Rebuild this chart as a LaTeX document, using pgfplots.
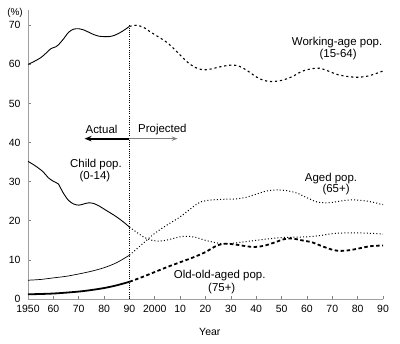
\documentclass[border=0pt]{standalone}
\usepackage{fontspec}
\setmainfont{Liberation Sans}
\usepackage{pgfplots}
\pgfplotsset{compat=1.18}
\usetikzlibrary{arrows.meta}
\begin{document}
\begin{tikzpicture}[x=1bp,y=1bp]
\useasboundingbox (-28,-45) rectangle (372,299);
\begin{axis}[
  at={(0,0)}, anchor=south west,
  scale only axis, width=355bp, height=289bp,
  xmin=1950, xmax=2090, ymin=0, ymax=73.9,
  axis lines=left,
  axis line style={gray!75, line width=0.8pt, -},
  xtick={1950,1960,...,2090},
  xticklabels={1950,60,70,80,90,2000,10,20,30,40,50,60,70,80,90},
  ytick={0,10,...,70},
  tick align=inside, major tick length=3bp,
  tick style={gray, line width=0.6pt},
  ticklabel style={font=\fontsize{10.5}{12}\selectfont},
  xticklabel style={yshift=-2.5bp},
  yticklabel style={xshift=-4bp},
  /pgf/number format/assume math mode=true,
  clip=false,
]
% vertical divider
\addplot[black, line width=0.8pt, dash pattern=on 0.8bp off 1.4bp] coordinates {(1990,0) (1990,70)};

% Working-age actual
\addplot[black, line width=0.9pt, smooth] coordinates {
(1950,60.0)(1952,60.6)(1955,61.7)(1957,62.8)(1959,64.0)(1961,64.5)(1962,65.0)(1964,66.5)(1966,68.2)(1968,69.0)(1970,69.1)(1972,68.8)(1974,68.2)(1976,67.6)(1978,67.2)(1980,67.1)(1982,67.1)(1984,67.4)(1986,68.0)(1988,68.8)(1990,69.7)};
% Working-age projected
\addplot[black, line width=1.1pt, dash pattern=on 2.2bp off 2.8bp, smooth] coordinates {
(1990,69.7)(1993,70.0)(1996,69.3)(1998,68.4)(2000,67.6)(2005,65.5)(2010,62.4)(2013,60.5)(2016,59.2)(2019,58.6)(2022,58.8)(2026,59.4)(2030,59.8)(2033,59.6)(2036,58.6)(2040,56.8)(2043,55.9)(2046,55.6)(2050,55.9)(2054,56.8)(2058,58.2)(2062,58.9)(2065,59.0)(2068,58.4)(2072,57.4)(2076,56.9)(2080,56.7)(2084,57.0)(2087,57.6)(2090,58.3)};

% Child actual
\addplot[black, line width=0.9pt, smooth] coordinates {
(1950,35.2)(1953,34.0)(1956,32.5)(1958,31.0)(1960,30.1)(1961,29.8)(1962,29.4)(1964,27.0)(1966,25.2)(1968,24.3)(1970,24.0)(1972,24.3)(1974,24.6)(1976,24.4)(1978,23.8)(1980,23.0)(1982,22.2)(1984,21.4)(1986,20.5)(1988,19.5)(1990,18.4)};
% Child projected
\addplot[black, line width=1pt, dash pattern=on 1bp off 2.2bp, smooth] coordinates {
(1990,18.4)(1993,17.0)(1996,15.7)(1999,15.0)(2002,14.8)(2005,15.1)(2008,15.6)(2011,16.0)(2014,16.0)(2017,15.6)(2020,15.0)(2024,14.4)(2027,14.1)(2030,14.2)(2035,14.6)(2040,15.0)(2045,15.4)(2050,15.7)(2055,15.8)(2060,15.9)(2065,16.2)(2070,16.7)(2075,16.9)(2080,16.9)(2085,16.8)(2090,16.6)};

% Aged 65+ actual
\addplot[black, line width=0.7pt, smooth] coordinates {
(1950,4.8)(1955,5.0)(1960,5.4)(1965,5.8)(1970,6.4)(1975,7.1)(1980,8.0)(1985,9.3)(1990,11.2)};
% Aged 65+ projected
\addplot[black, line width=1pt, dash pattern=on 1bp off 2.2bp, smooth] coordinates {
(1990,11.2)(1995,14.0)(2000,16.8)(2005,19.0)(2010,21.0)(2015,23.5)(2018,24.8)(2022,25.3)(2027,25.5)(2032,25.6)(2036,26.0)(2040,26.8)(2044,27.6)(2048,27.9)(2052,27.7)(2056,27.1)(2060,25.9)(2064,24.8)(2068,24.6)(2072,24.9)(2076,25.3)(2080,25.3)(2084,25.0)(2087,24.6)(2090,24.1)};

% Old-old 75+ actual
\addplot[black, line width=1.8pt, smooth] coordinates {
(1950,1.2)(1960,1.4)(1970,1.9)(1975,2.3)(1980,2.8)(1985,3.5)(1990,4.4)};
% Old-old 75+ projected
\addplot[black, line width=1.8pt, dash pattern=on 3.5bp off 2.5bp, smooth] coordinates {
(1990,4.4)(1995,5.6)(2000,6.9)(2005,8.2)(2010,9.4)(2015,10.6)(2020,12.0)(2024,13.5)(2027,14.1)(2031,14.0)(2035,13.6)(2039,13.3)(2043,13.6)(2047,14.4)(2051,15.3)(2054,15.5)(2058,15.0)(2062,14.5)(2066,13.5)(2070,12.6)(2073,12.3)(2077,12.5)(2081,13.0)(2085,13.5)(2090,13.7)};

% arrows
\draw[black, line width=2pt, -{Stealth[length=7bp,width=5.5bp]}] (axis cs:1990,41) -- (axis cs:1972.3,41);
\draw[gray, line width=0.8pt, -{Stealth[open,length=6bp,width=4.5bp]}] (axis cs:1990,41) -- (axis cs:2009,41);
\node[font=\fontsize{11.5}{13}\selectfont] at (axis cs:1979,43.3) {Actual};
\node[font=\fontsize{11.5}{13}\selectfont] at (axis cs:2003,43.3) {Projected};

% labels
\node[font=\fontsize{11.5}{13}\selectfont] at (axis cs:2071.9,65.5) {Working-age pop.};
\node[font=\fontsize{11.5}{13}\selectfont] at (axis cs:2072.3,62.4) {(15-64)};
\node[font=\fontsize{11.5}{13}\selectfont] at (axis cs:1976.8,34.5) {Child pop.};
\node[font=\fontsize{11.5}{13}\selectfont] at (axis cs:1976.4,31.2) {(0-14)};
\node[font=\fontsize{11.5}{13}\selectfont] at (axis cs:2069.5,30.7) {Aged pop.};
\node[font=\fontsize{11.5}{13}\selectfont] at (axis cs:2071.5,27.9) {(65+)};
\node[font=\fontsize{11.5}{13}\selectfont] at (axis cs:2025.6,6.1) {Old-old-aged pop.};
\node[font=\fontsize{11.5}{13}\selectfont] at (axis cs:2026.4,2.8) {(75+)};
\node[font=\fontsize{10.5}{12}\selectfont] at (axis cs:2021.7,-8.4) {Year};
\node[font=\fontsize{10}{12}\selectfont] at (axis cs:1944.9,73.1) {(\%)};
\end{axis}
\end{tikzpicture}
\end{document}
